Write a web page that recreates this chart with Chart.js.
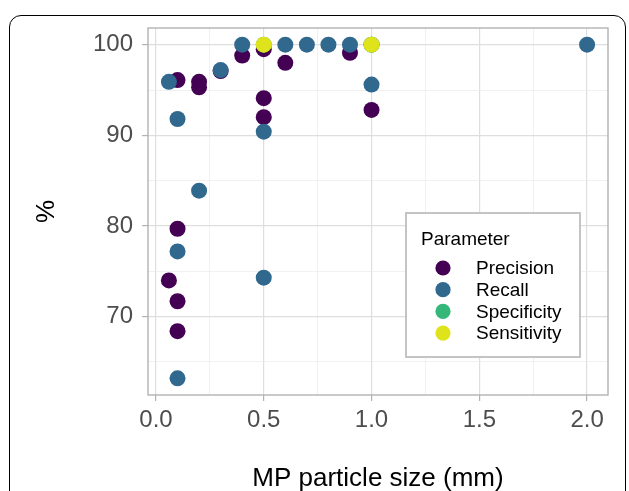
<!DOCTYPE html>
<html>
<head>
<meta charset="utf-8">
<script src="https://cdn.jsdelivr.net/npm/chart.js@4.4.1/dist/chart.umd.min.js"></script>
<style>
  html, body { margin: 0; padding: 0; background: #fff; overflow: hidden; }
  #frame { position: absolute; left: 9px; top: 15px; width: 615px; height: 540px;
           border: 1.5px solid #000; border-radius: 12px; }
  #wrap { position: absolute; left: 0; top: 0; width: 629px; height: 491px; }
</style>
</head>
<body>
<div id="frame"></div>
<div id="wrap"><canvas id="chart"></canvas></div>
<script>
// values
const precisionX = [0.06, 0.1, 0.1, 0.1, 0.1, 0.2, 0.2, 0.3, 0.4, 0.5, 0.5, 0.5, 0.6, 0.9, 1.0];
const precisionY = [74.0, 96.1, 79.7, 71.7, 68.4, 95.9, 95.3, 97.1, 98.8, 99.5, 94.1, 92.0, 98.0, 99.1, 92.8];

const recallX = [0.06, 0.1, 0.1, 0.1, 0.2, 0.3, 0.4, 0.5, 0.5, 0.6, 0.7, 0.8, 0.9, 1.0, 1.0, 2.0];
const recallY = [95.9, 91.8, 77.2, 63.2, 83.9, 97.2, 100, 90.4, 74.3, 100, 100, 100, 100, 95.6, 100, 100];

const specificityX = [0.5, 1.0];
const specificityY = [100, 100];

const sensitivityX = [0.5, 1.0];
const sensitivityY = [100, 100];

const xTicks = [0, 0.25, 0.5, 0.75, 1, 1.25, 1.5, 1.75, 2];
const xMajor = [0, 0.5, 1, 1.5, 2];
const yTicks = [65, 70, 75, 80, 85, 90, 95, 100];
const yMajor = [70, 80, 90, 100];

const FONT = "'Liberation Sans', Arial, sans-serif";

function toPoints(xs, ys) {
    return xs.map((x, i) => ({ x: x, y: ys[i] }));
}

function isMajor(list, v) {
    return list.some(m => Math.abs(m - v) < 1e-9);
}

// panel border drawn over the grid, like theme_light
const panelBorder = {
    id: 'panelBorder',
    beforeDatasetsDraw(chart) {
        const { ctx, chartArea: a } = chart;
        ctx.save();
        ctx.strokeStyle = '#B3B3B3';
        ctx.lineWidth = 1.4;
        ctx.strokeRect(a.left, a.top, a.right - a.left, a.bottom - a.top);
        ctx.restore();
    }
};

// legend box inside the panel
const boxLegend = {
    id: 'boxLegend',
    afterDraw(chart) {
        const ctx = chart.ctx;
        ctx.save();
        ctx.fillStyle = '#fff';
        ctx.fillRect(406, 213, 174, 144);
        ctx.strokeStyle = '#C4C4C4';
        ctx.lineWidth = 2;
        ctx.strokeRect(406, 213, 174, 144);

        ctx.fillStyle = '#000';
        ctx.font = '19px ' + FONT;
        ctx.textBaseline = 'alphabetic';
        ctx.textAlign = 'left';
        ctx.fillText('Parameter', 421, 245);

        chart.data.datasets.forEach((ds, i) => {
            const y = 268 + i * 21.7;
            ctx.beginPath();
            ctx.arc(443, y, 7.6, 0, Math.PI * 2);
            ctx.fillStyle = ds.backgroundColor;
            ctx.fill();
            ctx.fillStyle = '#000';
            ctx.textBaseline = 'middle';
            ctx.fillText(ds.label, 476, y + 1);
        });
        ctx.restore();
    }
};

const ctx = document.getElementById('chart').getContext('2d');
new Chart(ctx, {
    type: 'scatter',
    data: {
        // higher order is drawn first, so Sensitivity ends up on top
        datasets: [
            { label: 'Precision', data: toPoints(precisionX, precisionY), backgroundColor: '#440154', order: 4 },
            { label: 'Recall', data: toPoints(recallX, recallY), backgroundColor: '#31688E', order: 3 },
            { label: 'Specificity', data: toPoints(specificityX, specificityY), backgroundColor: '#35B779', order: 2 },
            { label: 'Sensitivity', data: toPoints(sensitivityX, sensitivityY), backgroundColor: '#DFE31C', order: 1 }
        ]
    },
    options: {
        responsive: true,
        maintainAspectRatio: false,
        animation: false,
        events: [],
        layout: { padding: { top: 28, right: 21, left: 0, bottom: 0 } },
        elements: { point: { radius: 8, borderWidth: 0, hoverRadius: 8 } },
        plugins: { legend: { display: false }, tooltip: { enabled: false } },
        scales: {
            x: {
                type: 'linear',
                min: -0.037,
                max: 2.097,
                afterBuildTicks: s => { s.ticks = xTicks.map(v => ({ value: v })); },
                afterFit: s => { s.height = 96; },
                border: { display: false },
                grid: {
                    color: c => isMajor(xMajor, c.tick.value) ? '#DEDEDE' : '#EBEBEB',
                    lineWidth: c => isMajor(xMajor, c.tick.value) ? 1.2 : 0.7,
                    tickColor: c => isMajor(xMajor, c.tick.value) ? '#B3B3B3' : 'rgba(0,0,0,0)',
                    tickLength: 6,
                    tickWidth: 1.2
                },
                ticks: {
                    autoSkip: false,
                    maxRotation: 0,
                    padding: 5,
                    color: '#4D4D4D',
                    font: { family: FONT, size: 24 },
                    callback: v => isMajor(xMajor, v) ? v.toFixed(1) : ''
                },
                title: {
                    display: true,
                    text: 'MP particle size (mm)',
                    color: '#000',
                    font: { family: FONT, size: 26 },
                    padding: { top: 0, bottom: -3 }
                }
            },
            y: {
                type: 'linear',
                min: 61.36,
                max: 101.84,
                afterBuildTicks: s => { s.ticks = yTicks.map(v => ({ value: v })); },
                afterFit: s => { s.width = 148; },
                border: { display: false },
                grid: {
                    color: c => isMajor(yMajor, c.tick.value) ? '#DEDEDE' : '#EBEBEB',
                    lineWidth: c => isMajor(yMajor, c.tick.value) ? 1.2 : 0.7,
                    tickColor: c => isMajor(yMajor, c.tick.value) ? '#B3B3B3' : 'rgba(0,0,0,0)',
                    tickLength: 6,
                    tickWidth: 1.2
                },
                ticks: {
                    autoSkip: false,
                    padding: 9,
                    color: '#4D4D4D',
                    font: { family: FONT, size: 24 },
                    callback: v => isMajor(yMajor, v) ? String(v) : ''
                },
                title: {
                    display: true,
                    text: '%',
                    color: '#000',
                    font: { family: FONT, size: 26 },
                    padding: { top: 31, bottom: 0 }
                }
            }
        }
    },
    plugins: [panelBorder, boxLegend]
});
</script>
</body>
</html>
